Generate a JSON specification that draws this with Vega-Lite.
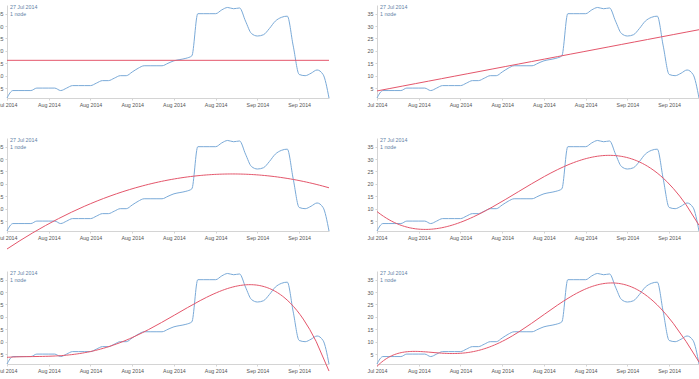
{
  "$schema": "https://vega.github.io/schema/vega-lite/v6.json",
  "background": "white",
  "padding": {"left": -4, "top": 4, "right": 0, "bottom": 0},
  "datasets": {
    "nodes": [
      {"date": "2014-07-27", "nodes": 1},
      {"date": "2014-07-28", "nodes": 4},
      {"date": "2014-07-29", "nodes": 4},
      {"date": "2014-07-30", "nodes": 4},
      {"date": "2014-07-31", "nodes": 4},
      {"date": "2014-08-01", "nodes": 5},
      {"date": "2014-08-02", "nodes": 5},
      {"date": "2014-08-03", "nodes": 5},
      {"date": "2014-08-04", "nodes": 5},
      {"date": "2014-08-05", "nodes": 4},
      {"date": "2014-08-06", "nodes": 5},
      {"date": "2014-08-07", "nodes": 6},
      {"date": "2014-08-08", "nodes": 6},
      {"date": "2014-08-09", "nodes": 6},
      {"date": "2014-08-10", "nodes": 6},
      {"date": "2014-08-11", "nodes": 7},
      {"date": "2014-08-12", "nodes": 8},
      {"date": "2014-08-13", "nodes": 8},
      {"date": "2014-08-14", "nodes": 9},
      {"date": "2014-08-15", "nodes": 10},
      {"date": "2014-08-16", "nodes": 10},
      {"date": "2014-08-17", "nodes": 11.5},
      {"date": "2014-08-18", "nodes": 13},
      {"date": "2014-08-19", "nodes": 14},
      {"date": "2014-08-20", "nodes": 14},
      {"date": "2014-08-21", "nodes": 14},
      {"date": "2014-08-22", "nodes": 14},
      {"date": "2014-08-23", "nodes": 15},
      {"date": "2014-08-24", "nodes": 16},
      {"date": "2014-08-25", "nodes": 16.5},
      {"date": "2014-08-26", "nodes": 17},
      {"date": "2014-08-27", "nodes": 18},
      {"date": "2014-08-28", "nodes": 35},
      {"date": "2014-08-29", "nodes": 35},
      {"date": "2014-08-30", "nodes": 35},
      {"date": "2014-08-31", "nodes": 35},
      {"date": "2014-09-01", "nodes": 36.5},
      {"date": "2014-09-02", "nodes": 37.5},
      {"date": "2014-09-03", "nodes": 37},
      {"date": "2014-09-04", "nodes": 37.3},
      {"date": "2014-09-05", "nodes": 32},
      {"date": "2014-09-06", "nodes": 27},
      {"date": "2014-09-07", "nodes": 26},
      {"date": "2014-09-08", "nodes": 26.5},
      {"date": "2014-09-09", "nodes": 29},
      {"date": "2014-09-10", "nodes": 32},
      {"date": "2014-09-11", "nodes": 33.5},
      {"date": "2014-09-12", "nodes": 34},
      {"date": "2014-09-13", "nodes": 22},
      {"date": "2014-09-14", "nodes": 10.5},
      {"date": "2014-09-15", "nodes": 10},
      {"date": "2014-09-16", "nodes": 11},
      {"date": "2014-09-17", "nodes": 12.3},
      {"date": "2014-09-18", "nodes": 10.5},
      {"date": "2014-09-19", "nodes": 1}
    ]
  },
  "data": {"name": "nodes", "format": {"parse": {"date": "date"}}},
  "columns": 2,
  "spacing": {"row": 40, "column": 48},
  "bounds": "flush",
  "concat": [
    {
      "width": 322, "height": 93,
      "title": {"text": "27 Jul 2014", "subtitle": "1 node"},
      "encoding": {
        "x": {"field": "date", "type": "temporal", "scale": {"type": "utc", "nice": false},
              "axis": {"values": [{"year": 2014, "month": 7, "date": 27, "utc": true}, {"year": 2014, "month": 8, "date": 3, "utc": true}, {"year": 2014, "month": 8, "date": 10, "utc": true}, {"year": 2014, "month": 8, "date": 17, "utc": true}, {"year": 2014, "month": 8, "date": 24, "utc": true}, {"year": 2014, "month": 8, "date": 31, "utc": true}, {"year": 2014, "month": 9, "date": 7, "utc": true}, {"year": 2014, "month": 9, "date": 14, "utc": true}], "labelExpr": "utcFormat(datum.value, '%b %Y')"}},
        "y": {"field": "nodes", "type": "quantitative", "scale": {"domain": [1, 38.5], "zero": false, "nice": false}, "axis": {"values": [5, 10, 15, 20, 25, 30, 35]}}
      },
      "layer": [
        {"mark": {"type": "line", "interpolate": "monotone", "color": "#7aaad8", "strokeWidth": 1}, "encoding": {}},
        {
          "transform": [{"aggregate": [{"op": "mean", "field": "nodes", "as": "nodes"}, {"op": "min", "field": "date", "as": "date"}, {"op": "max", "field": "date", "as": "date_end"}]}],
          "mark": {"type": "rule", "color": "#e4566b", "strokeWidth": 1},
          "encoding": {"x2": {"field": "date_end"}}
        }
      ]
    },
    {
      "width": 322, "height": 93,
      "title": {"text": "27 Jul 2014", "subtitle": "1 node"},
      "encoding": {
        "x": {"field": "date", "type": "temporal", "scale": {"type": "utc", "nice": false},
              "axis": {"values": [{"year": 2014, "month": 7, "date": 27, "utc": true}, {"year": 2014, "month": 8, "date": 3, "utc": true}, {"year": 2014, "month": 8, "date": 10, "utc": true}, {"year": 2014, "month": 8, "date": 17, "utc": true}, {"year": 2014, "month": 8, "date": 24, "utc": true}, {"year": 2014, "month": 8, "date": 31, "utc": true}, {"year": 2014, "month": 9, "date": 7, "utc": true}, {"year": 2014, "month": 9, "date": 14, "utc": true}], "labelExpr": "utcFormat(datum.value, '%b %Y')"}},
        "y": {"field": "nodes", "type": "quantitative", "scale": {"domain": [1, 38.5], "zero": false, "nice": false}, "axis": {"values": [5, 10, 15, 20, 25, 30, 35]}}
      },
      "layer": [
        {"mark": {"type": "line", "interpolate": "monotone", "color": "#7aaad8", "strokeWidth": 1}, "encoding": {}},
        {"transform": [{"regression": "nodes", "on": "date", "method": "poly", "order": 1}], "mark": {"type": "line", "color": "#e4566b", "strokeWidth": 1}, "encoding": {}}
      ]
    },
    {
      "width": 322, "height": 93,
      "title": {"text": "27 Jul 2014", "subtitle": "1 node"},
      "encoding": {
        "x": {"field": "date", "type": "temporal", "scale": {"type": "utc", "nice": false},
              "axis": {"values": [{"year": 2014, "month": 7, "date": 27, "utc": true}, {"year": 2014, "month": 8, "date": 3, "utc": true}, {"year": 2014, "month": 8, "date": 10, "utc": true}, {"year": 2014, "month": 8, "date": 17, "utc": true}, {"year": 2014, "month": 8, "date": 24, "utc": true}, {"year": 2014, "month": 8, "date": 31, "utc": true}, {"year": 2014, "month": 9, "date": 7, "utc": true}, {"year": 2014, "month": 9, "date": 14, "utc": true}], "labelExpr": "utcFormat(datum.value, '%b %Y')"}},
        "y": {"field": "nodes", "type": "quantitative", "scale": {"domain": [1, 38.5], "zero": false, "nice": false}, "axis": {"values": [5, 10, 15, 20, 25, 30, 35]}}
      },
      "layer": [
        {"mark": {"type": "line", "interpolate": "monotone", "color": "#7aaad8", "strokeWidth": 1}, "encoding": {}},
        {"transform": [{"regression": "nodes", "on": "date", "method": "poly", "order": 2}], "mark": {"type": "line", "color": "#e4566b", "strokeWidth": 1}, "encoding": {}}
      ]
    },
    {
      "width": 322, "height": 93,
      "title": {"text": "27 Jul 2014", "subtitle": "1 node"},
      "encoding": {
        "x": {"field": "date", "type": "temporal", "scale": {"type": "utc", "nice": false},
              "axis": {"values": [{"year": 2014, "month": 7, "date": 27, "utc": true}, {"year": 2014, "month": 8, "date": 3, "utc": true}, {"year": 2014, "month": 8, "date": 10, "utc": true}, {"year": 2014, "month": 8, "date": 17, "utc": true}, {"year": 2014, "month": 8, "date": 24, "utc": true}, {"year": 2014, "month": 8, "date": 31, "utc": true}, {"year": 2014, "month": 9, "date": 7, "utc": true}, {"year": 2014, "month": 9, "date": 14, "utc": true}], "labelExpr": "utcFormat(datum.value, '%b %Y')"}},
        "y": {"field": "nodes", "type": "quantitative", "scale": {"domain": [1, 38.5], "zero": false, "nice": false}, "axis": {"values": [5, 10, 15, 20, 25, 30, 35]}}
      },
      "layer": [
        {"mark": {"type": "line", "interpolate": "monotone", "color": "#7aaad8", "strokeWidth": 1}, "encoding": {}},
        {"transform": [{"regression": "nodes", "on": "date", "method": "poly", "order": 3}], "mark": {"type": "line", "color": "#e4566b", "strokeWidth": 1}, "encoding": {}}
      ]
    },
    {
      "width": 322, "height": 93,
      "title": {"text": "27 Jul 2014", "subtitle": "1 node"},
      "encoding": {
        "x": {"field": "date", "type": "temporal", "scale": {"type": "utc", "nice": false},
              "axis": {"values": [{"year": 2014, "month": 7, "date": 27, "utc": true}, {"year": 2014, "month": 8, "date": 3, "utc": true}, {"year": 2014, "month": 8, "date": 10, "utc": true}, {"year": 2014, "month": 8, "date": 17, "utc": true}, {"year": 2014, "month": 8, "date": 24, "utc": true}, {"year": 2014, "month": 8, "date": 31, "utc": true}, {"year": 2014, "month": 9, "date": 7, "utc": true}, {"year": 2014, "month": 9, "date": 14, "utc": true}], "labelExpr": "utcFormat(datum.value, '%b %Y')"}},
        "y": {"field": "nodes", "type": "quantitative", "scale": {"domain": [1, 38.5], "zero": false, "nice": false}, "axis": {"values": [5, 10, 15, 20, 25, 30, 35]}}
      },
      "layer": [
        {"mark": {"type": "line", "interpolate": "monotone", "color": "#7aaad8", "strokeWidth": 1}, "encoding": {}},
        {"transform": [{"regression": "nodes", "on": "date", "method": "poly", "order": 4}], "mark": {"type": "line", "color": "#e4566b", "strokeWidth": 1}, "encoding": {}}
      ]
    },
    {
      "width": 322, "height": 93,
      "title": {"text": "27 Jul 2014", "subtitle": "1 node"},
      "encoding": {
        "x": {"field": "date", "type": "temporal", "scale": {"type": "utc", "nice": false},
              "axis": {"values": [{"year": 2014, "month": 7, "date": 27, "utc": true}, {"year": 2014, "month": 8, "date": 3, "utc": true}, {"year": 2014, "month": 8, "date": 10, "utc": true}, {"year": 2014, "month": 8, "date": 17, "utc": true}, {"year": 2014, "month": 8, "date": 24, "utc": true}, {"year": 2014, "month": 8, "date": 31, "utc": true}, {"year": 2014, "month": 9, "date": 7, "utc": true}, {"year": 2014, "month": 9, "date": 14, "utc": true}], "labelExpr": "utcFormat(datum.value, '%b %Y')"}},
        "y": {"field": "nodes", "type": "quantitative", "scale": {"domain": [1, 38.5], "zero": false, "nice": false}, "axis": {"values": [5, 10, 15, 20, 25, 30, 35]}}
      },
      "layer": [
        {"mark": {"type": "line", "interpolate": "monotone", "color": "#7aaad8", "strokeWidth": 1}, "encoding": {}},
        {"transform": [{"regression": "nodes", "on": "date", "method": "poly", "order": 5}], "mark": {"type": "line", "color": "#e4566b", "strokeWidth": 1}, "encoding": {}}
      ]
    }
  ],
  "config": {
    "font": "Liberation Sans",
    "view": {"stroke": null},
    "axis": {
      "grid": false, "title": null,
      "domainColor": "#d4d4d4", "tickColor": "#d4d4d4", "tickSize": 2,
      "labelFont": "Liberation Sans", "labelFontSize": 5.3, "labelColor": "#555555",
      "labelPadding": 2, "labelFlush": false, "labelOverlap": false
    },
    "title": {
      "anchor": "start", "frame": "group", "orient": "top", "offset": -12, "dx": 3,
      "font": "Liberation Sans", "fontSize": 5.3, "fontWeight": "normal", "color": "#5f7fa6",
      "subtitleFont": "Liberation Sans", "subtitleFontSize": 5.3, "subtitleColor": "#5f7fa6", "subtitlePadding": 1.5
    }
  }
}
